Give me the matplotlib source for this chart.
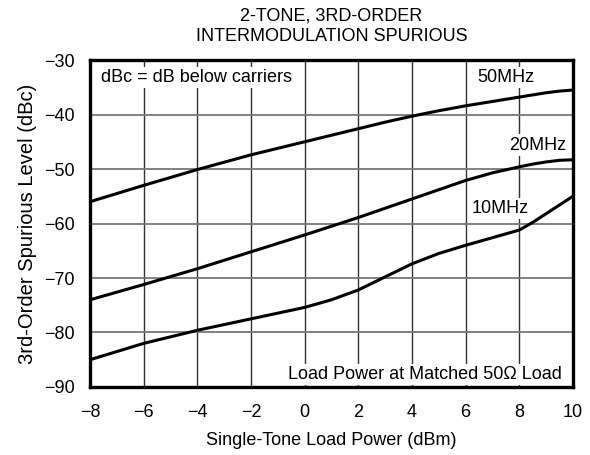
import matplotlib.pyplot as plt
import numpy as np

plt.rcParams["font.family"] = ["Liberation Sans", "DejaVu Sans"]

# load power (dBm)
power = [-8, -6, -4, -2, 0, 1, 2, 3, 4, 5, 6, 7, 8, 8.5, 9, 9.5, 10]

# 3rd-order spurious level (dBc) per tone spacing
spur_50mhz = [-56.0, -53.0, -50.1, -47.4, -45.0, -43.8, -42.6, -41.4, -40.3, -39.3, -38.4, -37.6, -36.8, -36.4, -36.0, -35.7, -35.5]
spur_20mhz = [-74.0, -71.2, -68.3, -65.2, -62.1, -60.5, -58.9, -57.2, -55.5, -53.8, -52.1, -50.7, -49.6, -49.1, -48.7, -48.4, -48.3]
spur_10mhz = [-85.0, -82.0, -79.6, -77.5, -75.4, -74.0, -72.2, -69.8, -67.4, -65.5, -64.0, -62.6, -61.2, -59.8, -58.2, -56.6, -55.0]

curve_labels = [("50MHz", 7.5, -33.2), ("20MHz", 8.7, -45.6), ("10MHz", 7.3, -57.3)]

FS = 13

fig = plt.figure(figsize=(5.9, 4.55), dpi=100)
ax = fig.add_axes([0.1525, 0.1495, 0.8185, 0.7185])

for series in [spur_50mhz, spur_20mhz, spur_10mhz]:
    ax.plot(power, series, color="black", linewidth=2.2, zorder=3)

ax.set_xlim(-8, 10)
ax.set_ylim(-90, -30)
ax.set_xticks(np.arange(-8, 11, 2))
ax.set_yticks(np.arange(-90, -29, 10))
ax.xaxis.grid(True, color="#333333", linewidth=1.0)
ax.yaxis.grid(True, color="#777777", linewidth=1.3)
ax.tick_params(length=0, labelsize=FS)
ax.tick_params(axis="x", pad=12)
ax.tick_params(axis="y", pad=11)
for sp in ax.spines.values():
    sp.set_linewidth(2.4)

box = dict(facecolor="white", edgecolor="none", pad=1.5)
for text, x, y in curve_labels:
    ax.text(x, y, text, ha="center", va="center", fontsize=FS, bbox=box, zorder=4)

ax.text(-7.6, -33.2, "dBc = dB below carriers", ha="left", va="center", fontsize=FS, bbox=box, zorder=4)
ax.text(9.6, -87.7, "Load Power at Matched 50\u03a9 Load", ha="right", va="center", fontsize=FS, bbox=box, zorder=4)

ax.set_xlabel("Single-Tone Load Power (dBm)", fontsize=FS, labelpad=8)
ax.set_ylabel("3rd-Order Spurious Level (dBc)", fontsize=14.5, labelpad=5)
ax.set_title("2-TONE, 3RD-ORDER\nINTERMODULATION SPURIOUS", fontsize=FS, pad=14, linespacing=1.25)

fig.savefig("out.png")
